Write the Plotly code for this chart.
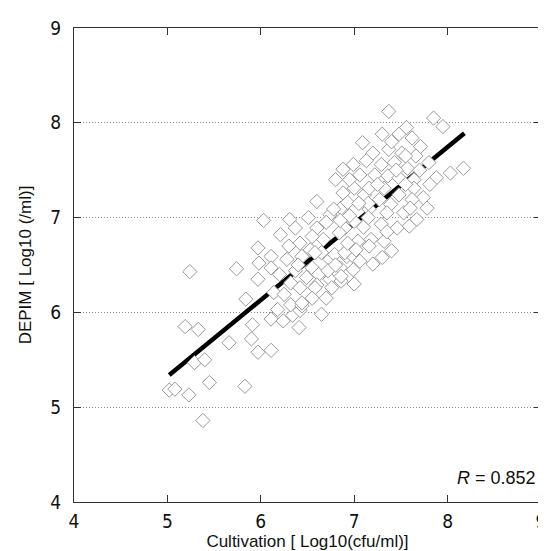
import plotly.graph_objects as go

# Scatter data (Cultivation vs DEPIM, log10 units)
cult = [5.02, 5.08, 5.23, 5.38, 5.45, 5.83, 5.29, 5.40, 5.19, 5.33, 5.66, 5.24, 5.74,
        5.90, 5.91, 5.97, 6.11, 6.11, 6.24, 6.34, 6.42, 6.65, 5.97, 5.98, 5.97, 5.84,
        6.03, 6.11, 6.11, 6.28, 6.32, 6.14, 6.25, 6.42, 6.49, 6.55, 6.44, 6.53, 6.65,
        6.74, 6.85, 6.62, 6.74, 6.60, 6.86, 6.92, 6.95, 6.32, 6.44, 6.18, 6.31, 6.21,
        6.51, 6.60, 6.88, 6.86, 6.74, 7.11, 7.16, 7.00, 6.90, 7.39, 7.48, 7.46, 7.29,
        7.32, 7.18, 7.04, 6.58, 6.79, 6.90, 7.00, 7.30, 7.20, 6.37, 6.86, 7.00, 6.58,
        6.76, 6.44, 6.41, 6.88, 6.78, 6.93, 6.95, 6.37, 6.60, 6.84, 6.42, 6.67, 6.93,
        7.37, 7.85, 7.95, 7.09, 7.30, 7.48, 7.62, 7.56, 7.71, 7.20, 7.37, 7.51, 7.66,
        6.99, 7.13, 7.29, 7.43, 7.57, 7.06, 7.22, 7.36, 7.48, 7.64, 7.88, 8.03, 8.17,
        7.81, 7.74, 7.78, 7.67, 7.02, 7.16, 7.06, 6.99, 6.72, 7.00, 7.32, 7.64, 7.27,
        7.62, 7.53, 7.59, 7.35, 7.16,
        7.40, 7.25, 7.45, 7.55, 7.70, 7.15, 7.05, 6.80, 6.95, 6.70, 6.55, 6.30, 6.20,
        6.40, 6.80, 7.10, 7.40, 6.70, 6.55, 7.55, 7.80, 7.15, 6.85, 7.35, 7.60]
depim = [5.18, 5.19, 5.13, 4.86, 5.26, 5.22, 5.47, 5.50, 5.85, 5.82, 5.68, 6.43, 6.46,
         5.72, 5.87, 5.58, 5.60, 5.93, 5.91, 5.97, 6.02, 5.98, 6.68, 6.52, 6.35, 6.14,
         6.97, 6.59, 6.47, 6.56, 6.31, 6.21, 6.19, 6.26, 6.37, 6.47, 6.59, 6.66, 6.63,
         6.56, 6.47, 6.40, 6.35, 6.29, 6.33, 6.59, 6.68, 6.08, 6.07, 6.03, 6.98, 6.82,
         7.00, 7.17, 7.26, 7.10, 7.03, 7.24, 7.09, 6.96, 6.89, 7.14, 7.24, 6.89, 6.93,
         6.75, 6.77, 6.75, 6.63, 6.61, 6.63, 6.58, 6.58, 6.51, 6.44, 6.38, 6.30, 6.26,
         6.26, 6.10, 5.84, 7.51, 7.09, 7.16, 7.02, 6.89, 6.89, 6.84, 6.73, 6.77, 6.73,
         8.12, 8.05, 7.96, 7.79, 7.88, 7.88, 7.84, 7.95, 7.75, 7.68, 7.72, 7.68, 7.65,
         7.56, 7.60, 7.56, 7.58, 7.52, 7.45, 7.45, 7.44, 7.42, 7.40, 7.42, 7.47, 7.52,
         7.35, 7.21, 7.10, 6.98, 6.66, 6.70, 6.54, 6.45, 6.44, 7.31, 7.31, 7.31, 7.19,
         7.19, 7.05, 6.91, 7.05, 7.31,
         7.80, 7.35, 7.50, 7.35, 7.50, 7.15, 7.15, 7.40, 7.40, 6.95, 6.80, 6.70, 6.40,
         6.50, 6.50, 6.90, 6.65, 6.15, 6.15, 7.65, 7.58, 7.00, 6.97, 6.85, 7.10]

# Regression line end points
fit_x = [5.02, 8.18]
fit_y = [5.34, 7.89]
r_text = "<i>R</i> = 0.852"

x_ticks = [4, 5, 6, 7, 8, 9]
y_ticks = [4, 5, 6, 7, 8, 9]

fig = go.Figure()
fig.add_trace(go.Scatter(x=fit_x, y=fit_y, mode="lines",
                         line=dict(color="black", width=4.5), showlegend=False))
fig.add_trace(go.Scatter(x=cult, y=depim, mode="markers", showlegend=False,
                         marker=dict(symbol="diamond", size=11, color="white",
                                     line=dict(color="#999999", width=1))))

fig.add_annotation(x=8.97, y=4.25, xref="x", yref="y", text=r_text, showarrow=False,
                   xanchor="right", yanchor="middle",
                   font=dict(family="Liberation Sans, Arial", size=18, color="#111"))

tickfont = dict(family="DejaVu Sans Condensed, Liberation Sans Narrow, Liberation Sans", size=19, color="#111")
titlefont = dict(family="Liberation Sans, Arial", size=17, color="#111")

fig.update_xaxes(range=[4, 9], tickvals=x_ticks, ticks="inside", ticklen=7,
                 tickcolor="#333", showline=True, linecolor="#333", linewidth=1,
                 mirror="ticks", showgrid=False, zeroline=False, tickfont=tickfont,
                 ticklabelstandoff=2,
                 title=dict(text="Cultivation [ Log10(cfu/ml)]", font=titlefont, standoff=2))
fig.update_yaxes(range=[4, 9], tickvals=y_ticks, ticks="inside", ticklen=7,
                 tickcolor="#333", showline=True, linecolor="#333", linewidth=1,
                 mirror="ticks", showgrid=True, gridcolor="#8a8a8a", gridwidth=1,
                 griddash="1px,2px", zeroline=False, tickfont=tickfont,
                 ticklabelstandoff=8,
                 title=dict(text="DEPIM [ Log10 (/ml)]", font=titlefont, standoff=14))

fig.update_layout(width=546, height=551, margin=dict(l=65.5, r=7.5, t=20, b=56.5),
                  plot_bgcolor="white", paper_bgcolor="white")

fig.write_html("out.html")
